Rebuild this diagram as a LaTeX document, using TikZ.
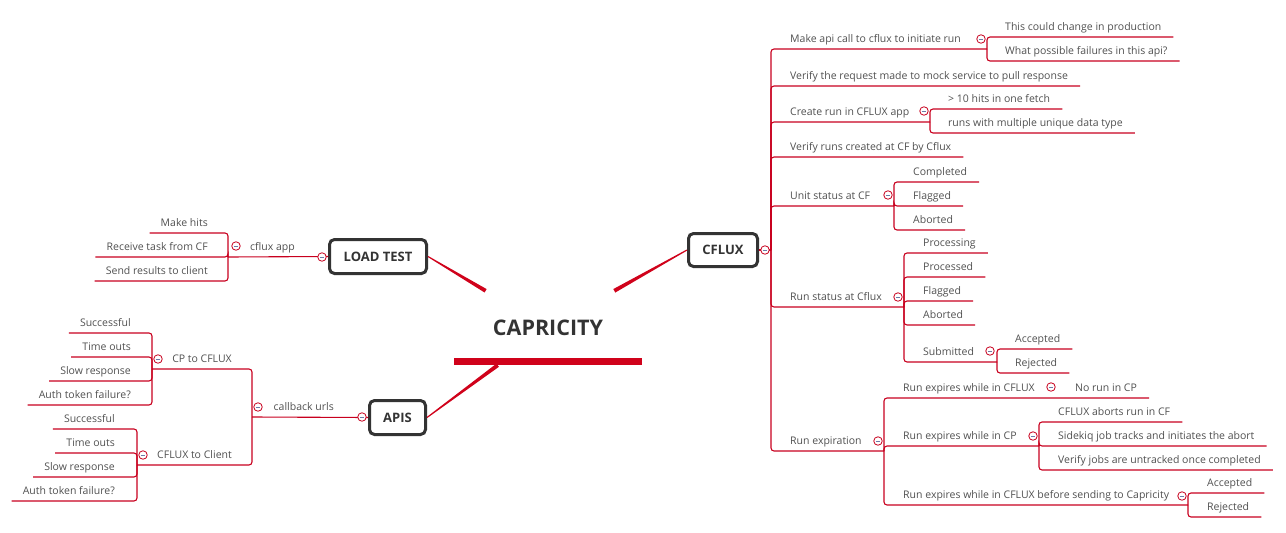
\documentclass[tikz,border=0pt]{standalone}
\usepackage{fontspec}
\setmainfont{Open Sans}
\usepackage{tikz}
\usetikzlibrary{positioning,calc}
\definecolor{branch}{HTML}{C8001E}
\definecolor{bar}{HTML}{D0021B}
\definecolor{ink}{HTML}{505050}
\definecolor{frame}{HTML}{333333}
\definecolor{minus}{HTML}{6B7BA8}
\tikzset{
  topic/.style={draw=frame, line width=3pt, rounded corners=5pt, fill=white, text=frame, font=\fontsize{13}{15}\selectfont\bfseries, minimum height=34pt, inner sep=0pt},
  item/.style={font=\fontsize{10.5}{12}\selectfont, text=ink, inner sep=0pt, text height=8pt, text depth=6pt},
  link/.style={draw=branch, line width=1.1pt, rounded corners=3pt},
  fold/.style={circle, draw=branch, fill=white, line width=0.8pt, minimum size=8.5pt, inner sep=0pt,
    path picture={\draw[minus, line width=0.8pt] ([xshift=2.2pt]path picture bounding box.west) -- ([xshift=-2.2pt]path picture bounding box.east);}},
}

\begin{document}
\begin{tikzpicture}[x=1pt, y=-1pt]
\useasboundingbox (0,0) rectangle (1286,533);
% main topics
\node[font=\fontsize{21.5}{24}\selectfont\bfseries, text=frame, minimum width=188pt, minimum height=74pt, inner sep=0pt] (capricity) at (548,328) {CAPRICITY};
\fill[bar] (capricity.south west) rectangle ([yshift=7pt]capricity.south east);
\node[topic, minimum width=97pt] (loadtest) at (378,256.5) {LOAD TEST};
\node[topic, minimum width=69pt, minimum height=33pt] (cflux) at (723,250) {CFLUX};
\node[topic, minimum width=56pt] (apis) at (397.5,417.5) {APIS};
\foreach \s/\e in {loadtest.east/lt-e, cflux.west/cf-e, apis.east/ap-e} {
  \path (\s) -- coordinate[pos=1] (\e) (capricity);
  \fill[bar] ($(\s)!0.55pt!90:(\e)$) -- ($(\e)!2pt!-90:(\s)$) -- ($(\e)!2pt!90:(\s)$) -- ($(\s)!0.55pt!-90:(\e)$) -- cycle;
}

% cflux
\coordinate (cflux-j) at (771,250);
\draw[link] (cflux.east) -- (cflux-j);
\foreach \n/\y/\txt in {api/49/Make api call to cflux to initiate run, mock/86/Verify the request made to mock service to pull response, create/122/Create run in CFLUX app, runs/157/Verify runs created at CF by Cflux, unit/206/Unit status at CF, status/307/Run status at Cflux, expire/451/Run expiration}
  \node[item, anchor=south west] (\n) at (790,\y) {\txt};
\foreach \n in {mock, runs}
  \draw[link] (cflux-j) |- ([xshift=12pt]\n.south east);
\coordinate (api-j) at (987,49);
\coordinate (create-j) at (930,122);
\coordinate (unit-j) at (894,206);
\coordinate (status-j) at (904,307);
\coordinate (expire-j) at (884,451);
\foreach \n in {api, create, unit, status, expire}
  \draw[link] (cflux-j) |- (\n-j);

\foreach \n/\y/\txt in {prod/37/This could change in production, fails/61/What possible failures in this api?} {
  \node[item, anchor=south west] (\n) at (1005,\y) {\txt};
  \draw[link] (api-j) |- ([xshift=12pt]\n.south east);
}
\foreach \n/\y/\txt in {tenhits/109/> 10 hits in one fetch, types/133/runs with multiple unique data type} {
  \node[item, anchor=south west] (\n) at (948,\y) {\txt};
  \draw[link] (create-j) |- ([xshift=12pt]\n.south east);
}
\foreach \n/\y/\txt in {done/182/Completed, uflag/206/Flagged, uabort/230/Aborted} {
  \node[item, anchor=south west] (\n) at (913,\y) {\txt};
  \draw[link] (unit-j) |- ([xshift=12pt]\n.south east);
}
\foreach \n/\y/\txt in {proc/253/Processing, procd/277/Processed, sflag/301/Flagged, sabort/325/Aborted} {
  \node[item, anchor=south west] (\n) at (923,\y) {\txt};
  \draw[link] (status-j) |- ([xshift=12pt]\n.south east);
}
\node[item, anchor=south west] (submit) at (923,362) {Submitted};
\coordinate (submit-j) at (997,362);
\draw[link] (status-j) |- (submit-j);
\foreach \n/\y/\txt in {sacc/349/Accepted, srej/373/Rejected} {
  \node[item, anchor=south west] (\n) at (1015,\y) {\txt};
  \draw[link] (submit-j) |- ([xshift=12pt]\n.south east);
}

% run expiration
\node[item, anchor=south west] (incflux) at (903,398) {Run expires while in CFLUX};
\node[item, anchor=south west] (incp) at (903,446) {Run expires while in CP};
\node[item, anchor=south west] (before) at (903,505) {Run expires while in CFLUX before sending to Capricity};
\node[item, anchor=south west] (norun) at (1075,398) {No run in CP};
\coordinate (incflux-j) at (1057,398);
\coordinate (incp-j) at (1039,446);
\coordinate (before-j) at (1188,505);
\draw[link] (expire-j) |- (incflux-j) -- ([xshift=12pt]norun.south east);
\foreach \n in {incp, before}
  \draw[link] (expire-j) |- (\n-j);
\foreach \n/\y/\txt in {abort/422/CFLUX aborts run in CF, sidekiq/446/Sidekiq job tracks and initiates the abort, untrack/470/Verify jobs are untracked once completed} {
  \node[item, anchor=south west] (\n) at (1058,\y) {\txt};
  \draw[link] (incp-j) |- ([xshift=12pt]\n.south east);
}
\foreach \n/\y/\txt in {bacc/493/Accepted, brej/517/Rejected} {
  \node[item, anchor=south west] (\n) at (1207,\y) {\txt};
  \draw[link] (before-j) |- ([xshift=12pt]\n.south east);
}

% load test
\coordinate (app-j) at (228,257);
\draw[link] (loadtest.west) -- (app-j);
\node[item, anchor=south east] (app) at (295,257) {cflux app};
\foreach \n/\y/\txt in {hits/233/Make hits, task/257/Receive task from CF, send/281/Send results to client} {
  \node[item, anchor=south east] (\n) at (208,\y) {\txt};
  \draw[link] (app-j) |- ([xshift=-11pt]\n.south west);
}

% apis
\coordinate (cb-j) at (252,417);
\draw[link] (apis.west) -- (cb-j);
\node[item, anchor=south east] (callback) at (334,417) {callback urls};
\node[item, anchor=south east] (cpcf) at (232,369) {CP to CFLUX};
\node[item, anchor=south east] (cfcl) at (232,465) {CFLUX to Client};
\coordinate (cpcf-j) at (152,369);
\coordinate (cfcl-j) at (137,465);
\foreach \n in {cpcf, cfcl}
  \draw[link] (cb-j) |- (\n-j);
\foreach \n/\y/\txt in {cp-ok/333/Successful, cp-time/357/Time outs, cp-slow/381/Slow response, cp-auth/405/Auth token failure?} {
  \node[item, anchor=south east] (\n) at (131,\y) {\txt};
  \draw[link] (cpcf-j) |- ([xshift=-11pt]\n.south west);
}
\foreach \n/\y/\txt in {cl-ok/429/Successful, cl-time/453/Time outs, cl-slow/477/Slow response, cl-auth/501/Auth token failure?} {
  \node[item, anchor=south east] (\n) at (115,\y) {\txt};
  \draw[link] (cfcl-j) |- ([xshift=-11pt]\n.south west);
}

% fold markers
\foreach \n/\p in {cflux-f/{765,250}, api-f/{981,39}, create-f/{924,111}, unit-f/{888,195}, status-f/{898,297}, submit-f/{990,351}, expire-f/{878,441}, incflux-f/{1051,387}, incp-f/{1033,436}, before-f/{1182,496}, loadtest-f/{322,257}, app-f/{236,246}, apis-f/{362,417}, callback-f/{258,407}, cpcf-f/{158,359}, cfcl-f/{143,455}}
  \node[fold] (\n) at (\p) {};
\end{tikzpicture}
\end{document}
